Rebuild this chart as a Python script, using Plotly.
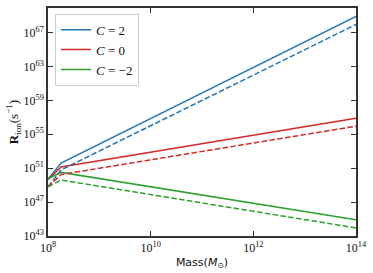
import plotly.graph_objects as go

mass = [1e8, 1.8e8, 1e14]

c2_solid = [5.0e49, 4.0e51, 8.0e68]
c2_dashed = [6.3e48, 6.3e50, 9.0e67]
c0_solid = [4.5e49, 1.4e51, 8.0e56]
c0_dashed = [6.3e48, 1.8e50, 9.0e55]
cm2_solid = [5.6e49, 3.2e50, 8.0e44]
cm2_dashed = [6.3e48, 4.0e49, 9.0e43]

labels = ["<i>C</i> = 2", "<i>C</i> = 0", "<i>C</i> = −2"]
colors = ["#1f77b4", "#d62728", "#2ca02c"]

y_tick_exps = [43, 47, 51, 55, 59, 63, 67]
x_tick_exps = [8, 10, 12, 14]

fig = go.Figure()
solids = [c2_solid, c0_solid, cm2_solid]
dashes = [c2_dashed, c0_dashed, cm2_dashed]
for lab, col, s in zip(labels, colors, solids):
    fig.add_trace(go.Scatter(x=mass, y=s, mode="lines", name=lab,
                             line=dict(color=col, width=1.5)))
for col, d in zip(colors, dashes):
    fig.add_trace(go.Scatter(x=mass, y=d, mode="lines", showlegend=False,
                             line=dict(color=col, width=1.5, dash="5.5px,2.4px")))

font = "Liberation Serif, DejaVu Serif, serif"
axis_common = dict(showline=True, linecolor="#333", linewidth=1.5, mirror="ticks",
                   ticks="inside", ticklen=5, tickwidth=1.3, tickcolor="#333",
                   showgrid=False, zeroline=False,
                   tickfont=dict(family=font, size=12, color="#111"))

fig.update_layout(
    width=373, height=273,
    margin=dict(l=48, r=17, t=6, b=37),
    plot_bgcolor="white", paper_bgcolor="white",
    xaxis=dict(type="log", range=[8, 14], tickmode="array",
               tickvals=[10.0 ** e for e in x_tick_exps],
               ticktext=["10<sup>%d</sup>" % e for e in x_tick_exps],
               title=dict(text="Mass(<i>M</i><sub>⊙</sub>)", standoff=4,
                          font=dict(family="DejaVu Sans, sans-serif", size=11, color="#111")),
               **axis_common),
    yaxis=dict(type="log", range=[43, 69.9], tickmode="array",
               tickvals=[10.0 ** e for e in y_tick_exps],
               ticktext=["10<sup>%d</sup>" % e for e in y_tick_exps],
               title=dict(text="<b>R</b><sub>ion</sub>(s<sup>−1</sup>)", standoff=2,
                          font=dict(family=font, size=13, color="#111")),
               **axis_common),
    legend=dict(x=0.023, y=0.975, xanchor="left", yanchor="top",
                bgcolor="rgba(255,255,255,0.8)", bordercolor="#ccc", borderwidth=1,
                font=dict(family=font, size=13, color="#111"),
                tracegroupgap=0, itemwidth=30),
    showlegend=True,
)

fig.write_html("out.html", config={"displayModeBar": False},
               post_script="document.body.style.margin='0';document.body.style.overflow='hidden';")
